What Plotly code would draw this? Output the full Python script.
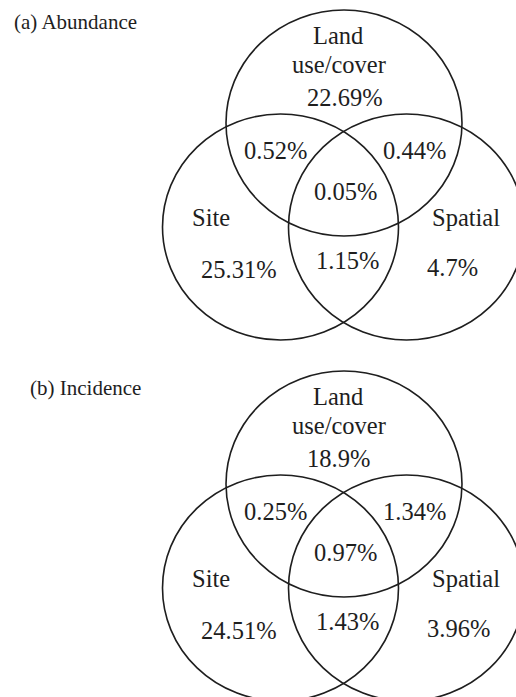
import plotly.graph_objects as go

# ---- data ----
panel_titles = ["(a) Abundance", "(b) Incidence"]
set_names = ["Land use/cover", "Site", "Spatial"]
regions = ["Land only", "Site∩Land", "Land∩Spatial", "All three",
           "Site only", "Site∩Spatial", "Spatial only"]
abundance = [22.69, 0.52, 0.44, 0.05, 25.31, 1.15, 4.7]
incidence = [18.9, 0.25, 1.34, 0.97, 24.51, 1.43, 3.96]
panel_values = [abundance, incidence]

# ---- layout constants (pixel-like coordinates) ----
W, H = 516, 697
FONT = "Liberation Serif, Times New Roman, serif"
INK = "#1e1e1e"
LABEL_SIZE = 24.5
TITLE_SIZE = 21
PANEL_DY = [0, 361]
# circle centres (x, y) and radii for top (land), left (site), right (spatial)
circles = [(344, 123), (280.5, 227), (406.5, 227)]
RX, RY = 118, 113
# value label anchors: (left x, baseline y) in panel coords, same order as regions
value_pos = [(305, 107), (242, 160), (381, 160), (312, 201),
             (199, 279), (314, 270), (425, 277)]
# set name lines: (text, x, baseline, xanchor)
name_lines = [("Land", 338, 45, "center"), ("use/cover", 338.5, 74, "center"),
              ("Site", 190, 227, "left"), ("Spatial", 430, 227, "left")]
title_pos = [(12, 30), (28, 35)]

def fmt(v):
    return f"{v}%"

def bottom_from_baseline(b, size):
    return b + 0.216 * size + 1

fig = go.Figure()
fig.add_trace(go.Scatter(x=[0, W], y=[0, H], mode="markers",
                         marker=dict(opacity=0), hoverinfo="skip", showlegend=False))

shapes = []
annotations = []
for p, (title, vals) in enumerate(zip(panel_titles, panel_values)):
    dy = PANEL_DY[p]
    for (cx, cy) in circles:
        shapes.append(dict(type="circle", xref="x", yref="y",
                           x0=cx - RX, x1=cx + RX, y0=cy + dy - RY, y1=cy + dy + RY,
                           line=dict(color=INK, width=1.6), fillcolor="rgba(0,0,0,0)"))
    tx, tb = title_pos[p]
    annotations.append(dict(text=title, x=tx, y=bottom_from_baseline(tb + dy, TITLE_SIZE),
                            xref="x", yref="y", xanchor="left", yanchor="bottom",
                            showarrow=False, font=dict(family=FONT, size=TITLE_SIZE, color=INK)))
    for (txt, x, b, xa) in name_lines:
        annotations.append(dict(text=txt, x=x, y=bottom_from_baseline(b + dy, LABEL_SIZE),
                                xref="x", yref="y", xanchor=xa, yanchor="bottom",
                                showarrow=False, font=dict(family=FONT, size=LABEL_SIZE, color=INK)))
    for v, (x, b) in zip(vals, value_pos):
        annotations.append(dict(text=fmt(v), x=x, y=bottom_from_baseline(b + dy, LABEL_SIZE),
                                xref="x", yref="y", xanchor="left", yanchor="bottom",
                                showarrow=False, font=dict(family=FONT, size=LABEL_SIZE, color=INK)))

fig.update_layout(
    width=W, height=H, margin=dict(l=0, r=0, t=0, b=0),
    paper_bgcolor="white", plot_bgcolor="white",
    xaxis=dict(range=[0, W], visible=False, fixedrange=True),
    yaxis=dict(range=[H, 0], visible=False, fixedrange=True),
    shapes=shapes, annotations=annotations, showlegend=False,
)
fig.write_html("out.html", config={"displayModeBar": False},
               post_script="document.body.style.margin='0';document.body.style.overflow='hidden';")
